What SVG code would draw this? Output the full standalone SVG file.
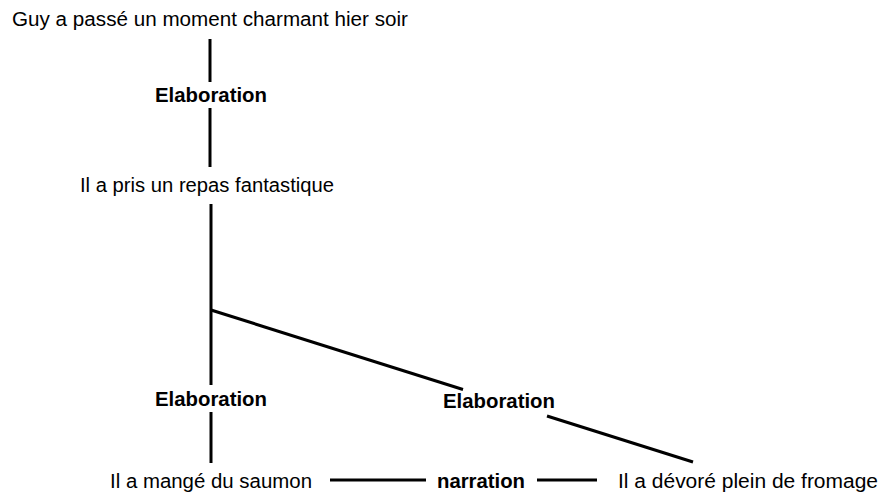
<svg xmlns="http://www.w3.org/2000/svg" width="882" height="494" viewBox="0 0 882 494">
<style>
.t{font-family:"Liberation Sans",Arial,sans-serif;font-size:20px;fill:#000}
.b{font-family:"Liberation Sans",Arial,sans-serif;font-size:20px;font-weight:bold;fill:#000}
.c line{stroke:#000;stroke-width:3}
</style>
<rect width="882" height="494" fill="#fff"/>
<g id="n1"><text class="t" x="210" y="26" text-anchor="middle" textLength="396" lengthAdjust="spacingAndGlyphs">Guy a passé un moment charmant hier soir</text></g>
<g id="n2"><text class="t" x="207" y="192" text-anchor="middle" textLength="254" lengthAdjust="spacingAndGlyphs">Il a pris un repas fantastique</text></g>
<g id="n3"><text class="t" x="211" y="488" text-anchor="middle" textLength="202" lengthAdjust="spacingAndGlyphs">Il a mangé du saumon</text></g>
<g id="n4"><text class="t" x="748" y="488" text-anchor="middle" textLength="260" lengthAdjust="spacingAndGlyphs">Il a dévoré plein de fromage</text></g>
<g id="connectors" class="c">
<line x1="210" y1="39" x2="210" y2="82"/>
<line x1="210" y1="108" x2="210" y2="167"/>
<text class="b" x="211" y="102" text-anchor="middle" textLength="112" lengthAdjust="spacingAndGlyphs">Elaboration</text>
<line x1="211" y1="204" x2="211" y2="385"/>
<line x1="211" y1="412" x2="211" y2="463"/>
<text class="b" x="211" y="406" text-anchor="middle" textLength="112" lengthAdjust="spacingAndGlyphs">Elaboration</text>
<line x1="211" y1="310" x2="463" y2="389.5"/>
<line x1="547" y1="416" x2="693" y2="462"/>
<text class="b" x="499" y="408" text-anchor="middle" textLength="112" lengthAdjust="spacingAndGlyphs">Elaboration</text>
<line x1="330" y1="480" x2="426" y2="480"/>
<line x1="537" y1="480" x2="597" y2="480"/>
<text class="b" x="481" y="488" text-anchor="middle" textLength="88" lengthAdjust="spacingAndGlyphs">narration</text>
</g>
</svg>
